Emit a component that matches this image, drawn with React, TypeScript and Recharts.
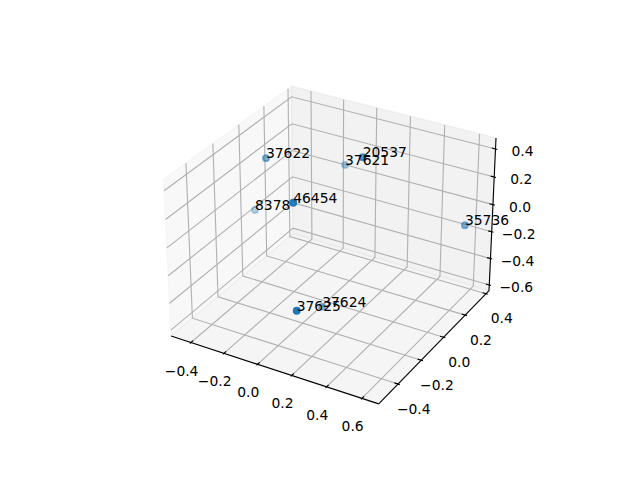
import { ScatterChart, Scatter, XAxis, YAxis } from 'recharts';

const pointLabels = ['37625', '46454', '20537', '37622', '35736', '37624', '37621', '8378'];
const pointXs = [0.154, -0.018, 0.137, -0.384, 0.596, 0.017, -0.109, -0.486];
const pointYs = [-0.455, -0.242, 0.108, 0.031, 0.329, -0.061, 0.313, 0.066];
const pointZs = [-0.282, 0.258, 0.382, 0.26, -0.111, -0.627, 0.105, -0.179];

const xTicks = [-0.4, -0.2, 0, 0.2, 0.4, 0.6];
const yTicks = [-0.4, -0.2, 0, 0.2, 0.4];
const zTicks = [-0.6, -0.4, -0.2, 0, 0.2, 0.4];

const xLim = [-0.5215, 0.6935];
const yLim = [-0.561, 0.429];
const zLim = [-0.644, 0.477];

const BLUE = '#1f77b4';
const GRID = '#b0b0b0';
const FONT = '"DejaVu Sans", sans-serif';
const FONT_SIZE = 13.89;

// same camera as a default mplot3d axes: elev 30, azim -60, dist 10
const BOX = [1.19048, 1.19048, 0.89286];
const U = [0.866025, 0.5, 0];
const V = [-0.25, 0.433013, 0.866025];
const N = [0.433013, -0.75, 0.5];
const SCALE = 369.6 / 0.185;

const dot = (a: number[], b: number[]) => a[0] * b[0] + a[1] * b[1] + a[2] * b[2];

function centered(x: number, y: number, z: number) {
  return [
    ((x - xLim[0]) / (xLim[1] - xLim[0]) - 0.5) * BOX[0],
    ((y - yLim[0]) / (yLim[1] - yLim[0]) - 0.5) * BOX[1],
    ((z - zLim[0]) / (zLim[1] - zLim[0]) - 0.5) * BOX[2],
  ];
}

function project(x: number, y: number, z: number) {
  const q = centered(x, y, z);
  const d = 10 - dot(N, q);
  return {
    px: 143.2 + (dot(U, q) / d + 0.095) * SCALE,
    py: 427.2 - (dot(V, q) / d + 0.095) * SCALE,
  };
}

type P3 = [number, number, number];
const path = (pts: P3[]) => pts.map((p) => project(p[0], p[1], p[2]));

const [x0, x1] = xLim;
const [y0, y1] = yLim;
const [z0, z1] = zLim;
const xDelta = (x1 - x0) / 12;
const yDelta = (y1 - y0) / 12;

const panes: { color: string; pts: P3[] }[] = [
  { color: '#f2f2f2', pts: [[x0, y0, z0], [x0, y1, z0], [x0, y1, z1], [x0, y0, z1], [x0, y0, z0]] },
  { color: '#e6e6e6', pts: [[x0, y1, z0], [x1, y1, z0], [x1, y1, z1], [x0, y1, z1], [x0, y1, z0]] },
  { color: '#ececec', pts: [[x0, y0, z0], [x1, y0, z0], [x1, y1, z0], [x0, y1, z0], [x0, y0, z0]] },
];

const gridLines: P3[][] = [
  ...xTicks.map((t): P3[] => [[t, y0, z0], [t, y1, z0], [t, y1, z1]]),
  ...yTicks.map((t): P3[] => [[x1, t, z0], [x0, t, z0], [x0, t, z1]]),
  ...zTicks.map((t): P3[] => [[x0, y0, t], [x0, y1, t], [x1, y1, t]]),
];

const axisLines: P3[][] = [
  [[x0, y0, z0], [x1, y0, z0]],
  [[x1, y0, z0], [x1, y1, z0]],
  [[x1, y1, z0], [x1, y1, z1]],
];

const tickMarks: P3[][] = [
  ...xTicks.map((t): P3[] => [[t, y0 + 0.2 * yDelta, z0], [t, y0 - 0.1 * yDelta, z0]]),
  ...yTicks.map((t): P3[] => [[x1 - 0.2 * xDelta, t, z0], [x1 + 0.1 * xDelta, t, z0]]),
  ...zTicks.map((t): P3[] => [[x1 - 0.2 * xDelta, y1, t], [x1 + 0.1 * xDelta, y1, t]]),
];

const tickText = (v: number) => v.toFixed(1).replace('-', '\u2212');

const tickLabels = [
  ...xTicks.map((t) => ({ ...project(t, y0, z0), text: tickText(t), dx: -9.3, dy: 28 })),
  ...yTicks.map((t) => ({ ...project(x1, t, z0), text: tickText(t), dx: 15.7, dy: 24.5 })),
  ...zTicks.map((t) => ({ ...project(x1, y1, t), text: tickText(t), dx: 27, dy: 2.2 })),
];

const depths = pointXs.map((x, i) => dot(N, centered(x, pointYs[i], pointZs[i])));
const nearest = Math.max(...depths);
const farthest = Math.min(...depths);

const points = pointXs.map((x, i) => ({
  ...project(x, pointYs[i], pointZs[i]),
  text: pointLabels[i],
  alpha: 0.3 + (0.7 * (depths[i] - farthest)) / (nearest - farthest),
}));

const NoMark = () => <g />;

const Dot = (props: any) => (
  <circle
    cx={props.cx}
    cy={props.cy}
    r={3.1}
    fill={BLUE}
    fillOpacity={props.payload.alpha}
    stroke={BLUE}
    strokeOpacity={props.payload.alpha}
    strokeWidth={1.7}
  />
);

const TickLabel = (props: any) => (
  <text
    x={props.cx + props.payload.dx}
    y={props.cy + props.payload.dy + 5}
    textAnchor="middle"
    fontFamily={FONT}
    fontSize={FONT_SIZE}
    fill="#000"
  >
    {props.payload.text}
  </text>
);

const PointLabel = (props: any) => (
  <text x={props.cx} y={props.cy} fontFamily={FONT} fontSize={FONT_SIZE} fill="#000">
    {props.payload.text}
  </text>
);

export default function App() {
  return (
    <div style={{ position: 'absolute', left: 0, top: 0, width: 640, height: 480, background: '#fff' }}>
      <ScatterChart width={640} height={480} margin={{ top: 0, right: 0, bottom: 0, left: 0 }}>
        <XAxis type="number" dataKey="px" domain={[0, 640]} hide />
        <YAxis type="number" dataKey="py" domain={[0, 480]} reversed hide />
        {panes.map((pane, i) => (
          <Scatter
            key={`pane-${i}`}
            data={path(pane.pts)}
            shape={NoMark}
            line={{ fill: pane.color, fillOpacity: 0.5, stroke: pane.color, strokeOpacity: 0.5, strokeWidth: 1.39 }}
            isAnimationActive={false}
          />
        ))}
        {gridLines.map((pts, i) => (
          <Scatter
            key={`grid-${i}`}
            data={path(pts)}
            shape={NoMark}
            line={{ stroke: GRID, strokeWidth: 1.11 }}
            isAnimationActive={false}
          />
        ))}
        {[...axisLines, ...tickMarks].map((pts, i) => (
          <Scatter
            key={`axis-${i}`}
            data={path(pts)}
            shape={NoMark}
            line={{ stroke: '#000', strokeWidth: 1.11 }}
            isAnimationActive={false}
          />
        ))}
        <Scatter data={tickLabels} shape={TickLabel} isAnimationActive={false} />
        <Scatter data={points} shape={Dot} isAnimationActive={false} />
        <Scatter data={points} shape={PointLabel} isAnimationActive={false} />
      </ScatterChart>
    </div>
  );
}
